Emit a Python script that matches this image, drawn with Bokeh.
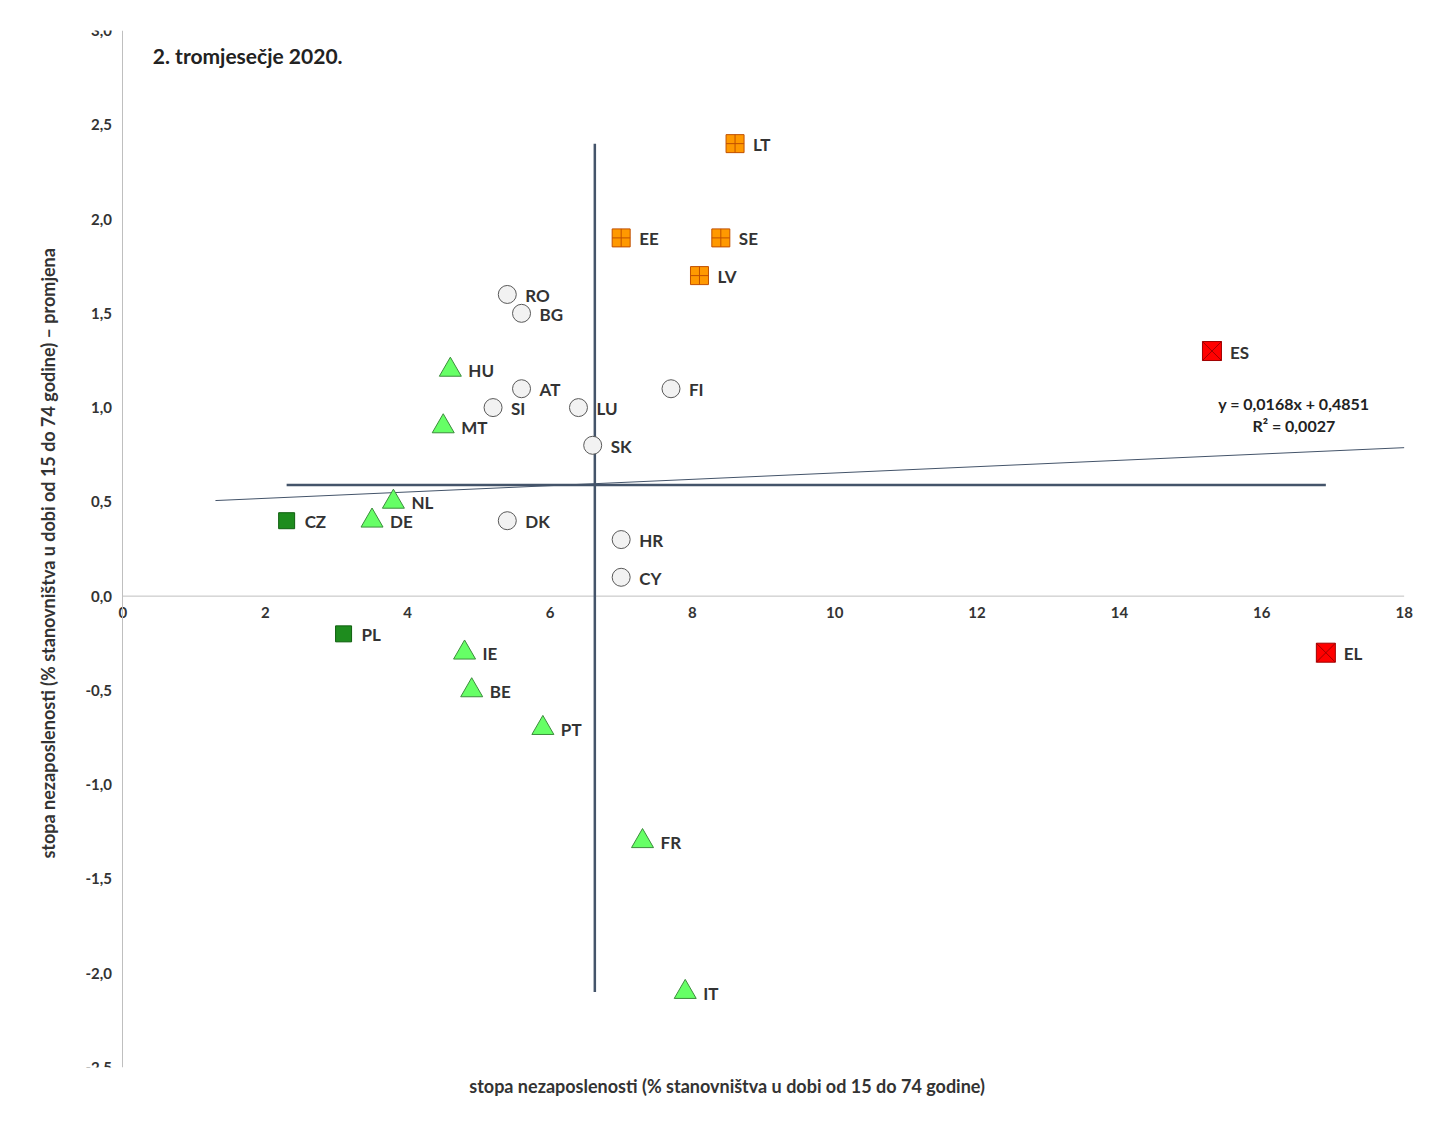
from bokeh.plotting import figure
from bokeh.models import ColumnDataSource, Title, Label, Range1d
from bokeh.core.properties import value
from bokeh.embed import file_html
from bokeh.resources import INLINE
import math

codes = ["LT","EE","SE","LV","RO","BG","ES","HU","AT","FI","SI","LU","MT","SK","NL","CZ","DE","DK","HR","CY","PL","EL","IE","BE","PT","FR","IT"]
xs = [8.6,7.0,8.4,8.1,5.4,5.6,15.3,4.6,5.6,7.7,5.2,6.4,4.5,6.6,3.8,2.3,3.5,5.4,7.0,7.0,3.1,16.9,4.8,4.9,5.9,7.3,7.9]
ys = [2.4,1.9,1.9,1.7,1.6,1.5,1.3,1.2,1.1,1.1,1.0,1.0,0.9,0.8,0.5,0.4,0.4,0.4,0.3,0.1,-0.2,-0.3,-0.3,-0.5,-0.7,-1.3,-2.1]
groups = ["o","o","o","o","c","c","r","t","c","c","c","c","t","c","t","g","t","c","c","c","g","r","t","t","t","t","t"]
mean_x = 6.63
mean_y = 0.59
slope, intercept = 0.0168, 0.4851
yticks = [-2.5,-2.0,-1.5,-1.0,-0.5,0.0,0.5,1.0,1.5,2.0,2.5,3.0]
xticks = [0,2,4,6,8,10,12,14,16,18]

FONT = "Lato"
TXT = "#333333"
styles = {
    "c": dict(marker="circle", fill_color="#f2f2f2", line_color="#595959", size=18),
    "o": dict(marker="square_cross", fill_color="#ff9900", line_color="#c05000", size=18),
    "r": dict(marker="square_x", fill_color="#ff0000", line_color="#a00000", size=19),
    "t": dict(marker="triangle", fill_color="#66ff66", line_color="#3c8c3c", size=22),
    "g": dict(marker="square", fill_color="#1e8c1e", line_color="#0f5f0f", size=16),
}

p = figure(width=1437, height=1101, output_backend="svg", toolbar_location=None,
           x_range=Range1d(-1.2, 18.3), y_range=Range1d(-2.5, 3.0),
           min_border_left=37, min_border_right=12, min_border_top=30, min_border_bottom=30)
p.outline_line_color = None
p.grid.visible = False
p.background_fill_color = "white"

p.xaxis.fixed_location = 0
p.yaxis.fixed_location = 0
p.xaxis.ticker = xticks
p.yaxis.ticker = yticks
p.yaxis.major_label_overrides = {t: f"{t:.1f}".replace(".", ",") for t in yticks}
for ax in (p.xaxis[0], p.yaxis[0]):
    ax.axis_line_color = "#bfbfbf"
    ax.major_tick_line_color = None
    ax.minor_tick_line_color = None
    ax.major_label_text_font = FONT
    ax.major_label_text_font_size = "15px"
    ax.major_label_text_font_style = "bold"
    ax.major_label_text_color = TXT
p.xaxis.axis_line_color = None
p.line([0, 18], [0, 0], line_color="#bfbfbf", line_width=1)

p.add_layout(Title(text="stopa nezaposlenosti  (% stanovništva  u dobi od 15 do 74 godine)", align="center",
                   text_font=FONT, text_font_size="18px", text_font_style="bold", text_color=TXT,
                   offset=60), "below")
p.add_layout(Label(x=-1.05, y=0.25, angle=math.pi / 2,
                   text="stopa nezaposlenosti  (% stanovništva  u dobi od 15 do 74 godine) – promjena",
                   text_font=FONT, text_font_size="18px", text_font_style="bold", text_color=TXT,
                   text_align="center", text_baseline="middle"))

# mean lines
p.line([mean_x, mean_x], [max(ys), min(ys)], line_color="#44546a", line_width=2.5)
p.line([min(xs), max(xs)], [mean_y, mean_y], line_color="#44546a", line_width=2.5)
# trend
tx = [1.3, 18]
p.line(tx, [slope * v + intercept for v in tx], line_color="#44546a", line_width=1)

for g, st in styles.items():
    idx = [i for i, gg in enumerate(groups) if gg == g]
    src = ColumnDataSource(dict(x=[xs[i] for i in idx], y=[ys[i] for i in idx]))
    p.scatter("x", "y", source=src, line_width=1, **st)

src = ColumnDataSource(dict(x=xs, y=ys, t=codes))
p.text("x", "y", text="t", source=src, x_offset=18, y_offset=1, text_baseline="middle",
       text_font=value(FONT), text_font_size="17px", text_font_style="bold", text_color=TXT)

p.add_layout(Label(x=0.42, y=2.87, text="2. tromjesečje 2020.", text_font=FONT, text_font_size="21px",
                   text_font_style="bold", text_color="#222222", text_baseline="middle"))
p.add_layout(Label(x=16.45, y=1.02, text="y = 0,0168x + 0,4851", text_font=FONT, text_font_size="16px",
                   text_font_style="bold", text_color="#222222", text_align="center", text_baseline="middle"))
p.add_layout(Label(x=16.45, y=0.905, text="R² = 0,0027", text_font=FONT, text_font_size="16px",
                   text_font_style="bold", text_color="#222222", text_align="center", text_baseline="middle"))

open("out.html", "w").write(file_html(p, INLINE))
